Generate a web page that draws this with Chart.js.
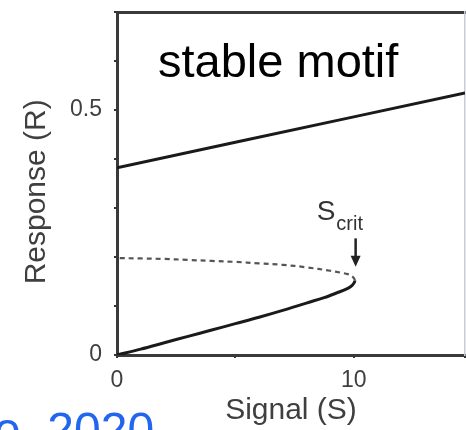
<!DOCTYPE html>
<html>
<head>
<meta charset="utf-8">
<script src="https://cdn.jsdelivr.net/npm/chart.js@4.4.1/dist/chart.umd.min.js"></script>
<style>
  html, body { margin: 0; padding: 0; background: #fff; overflow: hidden; }
  #wrap { position: relative; width: 466px; height: 430px; overflow: hidden; background: #fff; }
  #plot { position: absolute; left: 0; top: 0; filter: blur(0.7px); }
  .note { position: absolute; font-family: "Liberation Sans", Arial, sans-serif; line-height: 1; white-space: nowrap; }
  #motif { left: 158px; top: 37px; font-size: 47px; color: #000; }
  #cite { left: -6px; top: 406px; font-size: 48px; color: #2266ee; }
</style>
</head>
<body>
<div id="wrap">
  <canvas id="plot" width="466" height="430"></canvas>
  <div class="note" id="motif">stable motif</div>
  <div class="note" id="cite">e, 2020</div>
</div>
<script>
// Upper stable branch: response vs. signal
const highBranchSignal   = [0, 5, 10, 14.7];
const highBranchResponse = [0.382, 0.434, 0.486, 0.535];

// Lower stable branch, from the origin up to the fold
const lowBranchSignal   = [0, 1, 2, 3, 4, 5, 6, 7, 8, 8.75, 9.3, 9.75, 9.95, 10.05];
const lowBranchResponse = [0, 0.012, 0.025, 0.038, 0.051, 0.064, 0.077, 0.091, 0.106, 0.117, 0.127, 0.136, 0.143, 0.152];

// Unstable branch, from the fold back to S = 0
const unstableSignal   = [9.95, 9.75, 9.45, 9, 8, 7, 6, 5, 4, 3, 2, 1, 0];
const unstableResponse = [0.160, 0.165, 0.168, 0.172, 0.179, 0.184, 0.187, 0.190, 0.192, 0.194, 0.196, 0.197, 0.198];

// Axis ranges and the ticks that carry labels
const signalRange = [0, 14.7];
const responseRange = [0, 0.7];
const signalTickLabels = ['0', '10'];
const responseTickLabels = ['0', '0.5'];

// Saddle-node marker: S_crit and the response span of its arrow
const critSignal = 10.08;
const critArrowResponse = [0.238, 0.180];

const FONT = '"Liberation Sans", Arial, Helvetica, sans-serif';
const AXIS_COLOR = '#3a3a3a';
const TEXT_COLOR = '#3f3f3f';

const toPoints = (xs, ys) => xs.map((v, i) => ({ x: v, y: ys[i] }));

// Show a tick label only where the value matches one of the listed labels
const labelFor = list => v => list.find(t => Math.abs(parseFloat(t) - v) < 1e-9) || '';

// The low branch and unstable branch form one continuous fold curve;
// segments past the fold are drawn dashed.
const foldPoints = toPoints(lowBranchSignal, lowBranchResponse)
  .concat(toPoints(unstableSignal, unstableResponse));
const foldIndex = lowBranchSignal.length - 1;

const zeroPadding = s => { s.paddingLeft = 0; s.paddingRight = 0; s.paddingTop = 0; s.paddingBottom = 0; };

const critMarker = {
  id: 'critMarker',
  afterDatasetsDraw(chart) {
    const { ctx, scales: { x, y } } = chart;
    const px = x.getPixelForValue(critSignal);
    const yTop = y.getPixelForValue(critArrowResponse[0]);
    const yTip = y.getPixelForValue(critArrowResponse[1]);
    ctx.save();
    ctx.strokeStyle = '#222';
    ctx.fillStyle = '#222';
    ctx.lineWidth = 2.5;
    ctx.beginPath();
    ctx.moveTo(px, yTop);
    ctx.lineTo(px, yTip - 9);
    ctx.stroke();
    ctx.beginPath();
    ctx.moveTo(px - 5, yTip - 11);
    ctx.lineTo(px + 5, yTip - 11);
    ctx.lineTo(px, yTip);
    ctx.closePath();
    ctx.fill();

    ctx.fillStyle = '#333';
    ctx.textAlign = 'left';
    ctx.textBaseline = 'alphabetic';
    ctx.font = '28px ' + FONT;
    const left = px - 39;
    const wS = ctx.measureText('S').width;
    ctx.fillText('S', left, yTop - 18);
    ctx.font = '20px ' + FONT;
    ctx.fillText('crit', left + wS + 1, yTop - 8);
    ctx.restore();
  }
};

new Chart(document.getElementById('plot'), {
  type: 'line',
  data: {
    datasets: [
      {
        data: toPoints(highBranchSignal, highBranchResponse),
        borderColor: '#1a1a1a',
        borderWidth: 3,
        pointRadius: 0,
        tension: 0
      },
      {
        data: foldPoints,
        borderColor: '#1a1a1a',
        borderWidth: 3,
        pointRadius: 0,
        tension: 0.35,
        segment: {
          borderDash: ctx => ctx.p0DataIndex >= foldIndex ? [5, 4] : undefined,
          borderColor: ctx => ctx.p0DataIndex >= foldIndex ? '#555' : undefined,
          borderWidth: ctx => ctx.p0DataIndex >= foldIndex ? 2.2 : undefined
        }
      }
    ]
  },
  options: {
    responsive: false,
    animation: false,
    devicePixelRatio: 1,
    layout: { padding: { left: 0, top: 12, right: 0, bottom: 0 } },
    plugins: { legend: { display: false }, tooltip: { enabled: false } },
    scales: {
      x: {
        type: 'linear',
        position: 'bottom',
        min: signalRange[0],
        max: signalRange[1],
        afterFit(s) { s.height = 75; zeroPadding(s); },
        ticks: {
          stepSize: 5,
          autoSkip: false,
          maxRotation: 0,
          padding: 9,
          color: TEXT_COLOR,
          font: { family: FONT, size: 23 },
          callback: labelFor(signalTickLabels)
        },
        grid: { drawOnChartArea: false, drawTicks: true, tickLength: 3, color: '#333', lineWidth: 2 },
        border: { display: true, color: AXIS_COLOR, width: 3 },
        title: {
          display: true,
          text: 'Signal (S)',
          color: TEXT_COLOR,
          font: { family: FONT, size: 30, lineHeight: 1 },
          padding: { top: 0, bottom: 4 }
        }
      },
      xTop: {
        type: 'linear',
        position: 'top',
        min: signalRange[0],
        max: signalRange[1],
        afterFit(s) { s.height = 0; zeroPadding(s); },
        ticks: { display: false },
        grid: { display: false, drawTicks: false },
        border: { display: true, color: AXIS_COLOR, width: 3 }
      },
      y: {
        type: 'linear',
        position: 'left',
        min: responseRange[0],
        max: responseRange[1],
        afterFit(s) { s.width = 117; zeroPadding(s); },
        ticks: {
          stepSize: 0.1,
          autoSkip: false,
          padding: 12,
          color: TEXT_COLOR,
          font: { family: FONT, size: 23 },
          callback: labelFor(responseTickLabels)
        },
        grid: { drawOnChartArea: false, drawTicks: true, tickLength: 3, color: '#333', lineWidth: 2 },
        border: { display: true, color: AXIS_COLOR, width: 3 },
        title: {
          display: true,
          // trailing spaces nudge the centred title toward the lower end of the axis
          text: 'Response (R)  ',
          color: TEXT_COLOR,
          font: { family: FONT, size: 30, lineHeight: 1 },
          padding: { top: 22, bottom: 0 }
        }
      },
      yRight: {
        type: 'linear',
        position: 'right',
        min: responseRange[0],
        max: responseRange[1],
        afterFit(s) { s.width = 1; zeroPadding(s); },
        ticks: { display: false },
        grid: { display: false, drawTicks: false },
        border: { display: true, color: '#c9cbd6', width: 1.5 }
      }
    }
  },
  plugins: [critMarker]
});
</script>
</body>
</html>
